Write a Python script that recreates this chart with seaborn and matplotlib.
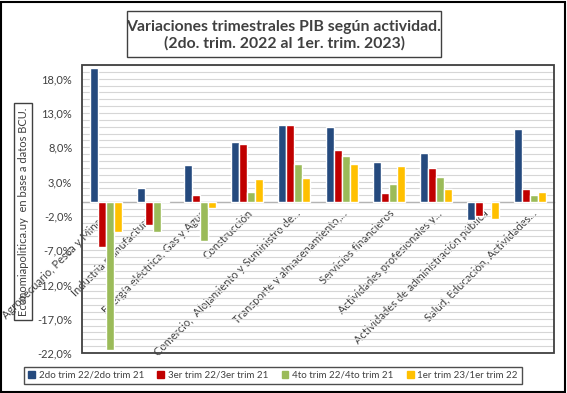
import numpy as np
import pandas as pd
import matplotlib
matplotlib.use("Agg")
import matplotlib.pyplot as plt
from matplotlib.patches import Rectangle
import seaborn as sns

categories = [
    "Agropecuario, Pesca y Minería",
    "Industria manufacturera",
    "Energía eléctrica, Gas y Agua",
    "Construcción",
    "Comercio,  Alojamiento y Suministro de...",
    "Transporte y almacenamiento,...",
    "Servicios financieros",
    "Actividades profesionales y...",
    "Actividades de administración pública",
    "Salud, Educación, Actividades...",
]
series_names = [
    "2do trim 22/2do trim 21",
    "3er trim 22/3er trim 21",
    "4to trim 22/4to trim 21",
    "1er trim 23/1er trim 22",
]
s1 = [19.6, 2.1, 5.35, 8.75, 11.3, 11.0, 5.9, 7.2, -2.6, 10.6]
s2 = [-6.6, -3.3, 1.1, 8.45, 11.2, 7.6, 1.3, 5.0, -2.0, 1.9]
s3 = [-21.6, -4.4, -5.7, 1.5, 5.5, 6.8, 2.7, 3.7, 0.2, 1.0]
s4 = [-4.4, 0.2, -0.8, 3.4, 3.5, 5.6, 5.2, 1.95, -2.4, 1.5]
colors = ["#254A7E", "#C00000", "#9BBB59", "#FFC000"]
yticks = [-22, -17, -12, -7, -2, 3, 8, 13, 18]

rows = []
for name, vals in zip(series_names, [s1, s2, s3, s4]):
    for c, v in zip(categories, vals):
        rows.append({"cat": c, "serie": name, "val": v})
df = pd.DataFrame(rows)

sns.set_style("white")
plt.rcParams["font.family"] = ["Lato", "DejaVu Sans"]
txt = "#404040"

fig = plt.figure(figsize=(5.67, 3.93), dpi=100)
ax = fig.add_axes([82/567, 1-353/393, (554-82)/567, (353-65)/393])

sns.barplot(data=df, x="cat", y="val", hue="serie", order=categories,
            hue_order=series_names, palette=colors, width=0.68,
            ax=ax, legend=False, zorder=3, saturation=1)

ax.set_ylim(-22, 20)
ax.set_xlim(-0.5, len(categories)-0.5)
ax.hlines(np.arange(-22, 21, 1), -0.5, len(categories)-0.5,
          colors="#D6D6D6", linewidths=0.8, zorder=1)
ax.set_yticks(yticks)
ax.set_yticklabels([f"{t:.1f}%".replace(".", ",") for t in yticks], fontsize=8, color=txt)
ax.tick_params(axis="both", which="both", length=0)
ax.tick_params(axis="y", pad=7)
ax.set_xlabel("")
ax.set_ylabel("")

for sp in ["top", "left", "right"]:
    ax.spines[sp].set_visible(False)
ax.spines["bottom"].set_position(("data", 0))
ax.spines["bottom"].set_color("#B4B4B4")
ax.spines["bottom"].set_linewidth(1.0)
ax.spines["bottom"].set_zorder(2.5)

ax.set_xticks(range(len(categories)))
ax.set_xticklabels(categories, rotation=45, ha="right", rotation_mode="anchor",
                   fontsize=8, color=txt)
ax.tick_params(axis="x", pad=4)

ax.add_patch(Rectangle((0, 0), 1, 1, transform=ax.transAxes, fill=False,
                       edgecolor="#404040", lw=1.3, clip_on=False, zorder=5))

# legend
handles = [Rectangle((0, 0), 1, 1, color=c) for c in colors]
leg = fig.legend(handles, series_names, loc="center", ncol=4,
                 bbox_to_anchor=(273/567, 1-375.5/393), fontsize=7,
                 frameon=True, fancybox=False, edgecolor="#222222",
                 handlelength=0.7, handleheight=0.7, handletextpad=0.4,
                 columnspacing=1.35, borderpad=0.4, borderaxespad=0)
leg.get_frame().set_linewidth(1.0)
for t in leg.get_texts():
    t.set_color(txt)

# title box
fig.patches.append(Rectangle((127/567, 1-57/393), (441-127)/567, (57-11)/393,
                             transform=fig.transFigure, fill=False,
                             edgecolor="#404040", lw=1.0))
fig.text(284/567, 1-35.5/393, "Variaciones trimestrales PIB según actividad.\n(2do. trim. 2022 al 1er. trim. 2023)",
         ha="center", va="center", fontsize=11.3, fontweight="bold",
         color="#404040", linespacing=1.2)

# source box (vertical)
src = Rectangle((14/567, 1-320/393), 18/567, (320-103)/393,
                transform=fig.transFigure, facecolor="white",
                edgecolor="#404040", lw=1.0, zorder=-1)
fig.patches.append(src)
fig.text(23.5/567, 1-211.5/393, "Economiapolitica.uy  en base a datos BCU.",
         rotation=90, ha="center", va="center", fontsize=8, color=txt, zorder=-1)

# outer frame
fig.patches.append(Rectangle((0.002, 0.003), 0.995, 0.993, transform=fig.transFigure,
                             fill=False, edgecolor="#000000", lw=1.5))

fig.savefig("out.png", dpi=100)
